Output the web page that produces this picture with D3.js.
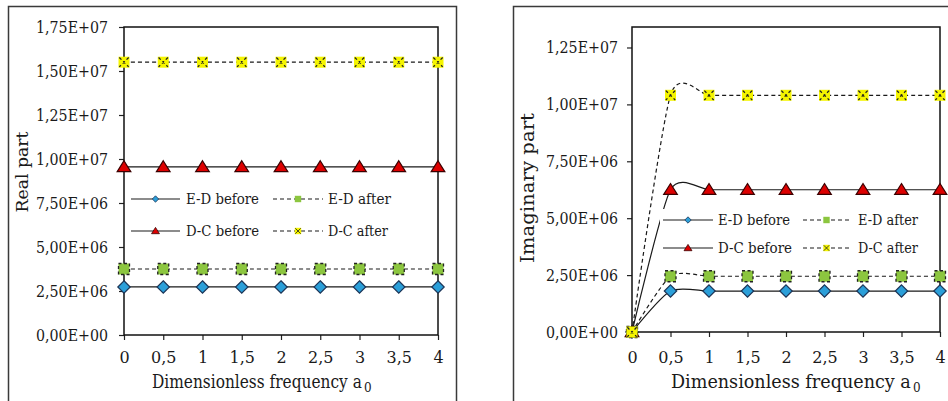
<!DOCTYPE html>
<html><head><meta charset="utf-8">
<script src="https://cdn.jsdelivr.net/npm/d3@7/dist/d3.min.js"></script>
<style>
html,body{margin:0;padding:0;background:#fff;}
svg{display:block;}
svg text{font-family:"DejaVu Serif","Liberation Serif",serif !important;fill:#1a1a1a;}
</style></head>
<body>
<svg id="chart" width="948" height="401"></svg>
<script>
// ---- data ----
const categories = ["0","0,5","1","1,5","2","2,5","3","3,5","4"];
const seriesNames = ["E-D before","E-D after","D-C before","D-C after"];
const realEDBefore = [2.73e6,2.73e6,2.73e6,2.73e6,2.73e6,2.73e6,2.73e6,2.73e6,2.73e6];
const realEDAfter  = [3.75e6,3.75e6,3.75e6,3.75e6,3.75e6,3.75e6,3.75e6,3.75e6,3.75e6];
const realDCBefore = [9.55e6,9.55e6,9.55e6,9.55e6,9.55e6,9.55e6,9.55e6,9.55e6,9.55e6];
const realDCAfter  = [1.55e7,1.55e7,1.55e7,1.55e7,1.55e7,1.55e7,1.55e7,1.55e7,1.55e7];
const imagEDBefore = [0,1.80e6,1.80e6,1.80e6,1.80e6,1.80e6,1.80e6,1.80e6,1.80e6];
const imagEDAfter  = [0,2.45e6,2.45e6,2.45e6,2.45e6,2.45e6,2.45e6,2.45e6,2.45e6];
const imagDCBefore = [0,6.25e6,6.25e6,6.25e6,6.25e6,6.25e6,6.25e6,6.25e6,6.25e6];
const imagDCAfter  = [0,1.04e7,1.04e7,1.04e7,1.04e7,1.04e7,1.04e7,1.04e7,1.04e7];
const realTicks = [0,2.5e6,5e6,7.5e6,1e7,1.25e7,1.5e7,1.75e7];
const imagTicks = [0,2.5e6,5e6,7.5e6,1e7,1.25e7];
const realMax = 1.75e7, imagMax = 1.34e7;
const xTitle = "Dimensionless frequency a";
const xTitleSub = "0";

const FONT = '"DejaVu Serif","Liberation Serif",serif';

// ---- helpers ----
function fmtE(v){
  if (v === 0) return "0,00E+00";
  const s = v.toExponential(2).split("e");
  const m = s[0].replace(".", ",");
  const e = parseInt(s[1],10);
  return m + "E" + (e<0?"-":"+") + String(Math.abs(e)).padStart(2,"0");
}
const svg = d3.select("#chart");

const styles = {
  "E-D before": {dash:null, marker:"diamond", fill:"#2b9fd9", stroke:"#1d3557"},
  "E-D after":  {dash:"4,3", marker:"square", fill:"#8cc63f", stroke:"#222"},
  "D-C before": {dash:null, marker:"triangle", fill:"#dd0000", stroke:"#3a0000"},
  "D-C after":  {dash:"4,3", marker:"xsq", fill:"#f5f500", stroke:"#222"}
};

function drawMarker(g, type, x, y, s, st, small){
  if (type === "diamond"){
    g.append("path").attr("d", `M${x},${y-s}L${x+s},${y}L${x},${y+s}L${x-s},${y}Z`)
      .attr("fill", st.fill).attr("stroke", st.stroke).attr("stroke-width", small?0.8:1.2);
  } else if (type === "square"){
    g.append("rect").attr("x", x-s).attr("y", y-s).attr("width", 2*s).attr("height", 2*s)
      .attr("fill", st.fill).attr("stroke", small?"none":st.stroke).attr("stroke-width", 1.3)
      .attr("stroke-dasharray", "3,2.5");
  } else if (type === "triangle"){
    g.append("path").attr("d", `M${x},${y-s}L${x+s*1.1},${y+s*0.75}L${x-s*1.1},${y+s*0.75}Z`)
      .attr("fill", st.fill).attr("stroke", st.stroke).attr("stroke-width", small?0.8:1.2);
  } else if (type === "xsq"){
    g.append("rect").attr("x", x-s).attr("y", y-s).attr("width", 2*s).attr("height", 2*s)
      .attr("fill", st.fill);
    const k = s*0.85;
    g.append("path").attr("d", `M${x-k},${y-k}L${x+k},${y+k}M${x+k},${y-k}L${x-k},${y+k}`)
      .attr("stroke", "#222").attr("stroke-width", small?0.8:1.3)
      .attr("stroke-dasharray", small?null:"3,2.5").attr("fill","none");
  }
}

function panel(cfg){
  const g = svg.append("g");
  // outer frame
  g.append("rect").attr("x", cfg.frame[0]).attr("y", cfg.frame[1])
    .attr("width", cfg.frame[2]).attr("height", cfg.frame[3])
    .attr("fill", "none").attr("stroke", "#3a3a3a").attr("stroke-width", 1.5);

  const x = d3.scalePoint().domain(categories).range([cfg.x0, cfg.x1]).padding(0);
  const y = d3.scaleLinear().domain([0, cfg.max]).range([cfg.y1, cfg.y0]);

  // y axis
  const ya = g.append("g").attr("transform", `translate(${cfg.x0},0)`)
    .call(d3.axisLeft(y).tickValues(cfg.ticks).tickFormat(fmtE).tickSize(5).tickPadding(cfg.yPad));
  ya.attr("font-family", FONT);
  ya.select(".domain").remove();
  ya.selectAll("line").attr("stroke", "#222").attr("stroke-width", 1.2);
  ya.selectAll("text").style("font-family", FONT).attr("font-size", 16)
    .attr("fill", "#1a1a1a").attr("textLength", 72).attr("lengthAdjust", "spacingAndGlyphs");

  // x axis
  const xa = g.append("g").attr("transform", `translate(0,${cfg.y1})`)
    .call(d3.axisBottom(x).tickSize(5).tickPadding(cfg.xPad));
  xa.attr("font-family", FONT);
  xa.select(".domain").remove();
  xa.selectAll("line").attr("stroke", "#222").attr("stroke-width", 1.2);
  xa.selectAll("text").style("font-family", FONT).attr("font-size", 16).attr("fill", "#1a1a1a");

  // plot border
  g.append("rect").attr("x", cfg.x0).attr("y", cfg.y0)
    .attr("width", cfg.x1 - cfg.x0).attr("height", cfg.y1 - cfg.y0)
    .attr("fill", "none").attr("stroke", "#111").attr("stroke-width", 1.5);

  // lines (smoothed, like the spreadsheet's smoothed lines)
  const line = d3.line().x((d,i)=>x(categories[i])).y(d=>y(d)).curve(d3.curveCardinal.tension(0.3));
  cfg.series.forEach((vals, si) => {
    const st = styles[seriesNames[si]];
    g.append("path").attr("d", line(vals)).attr("fill", "none")
      .attr("stroke", "#1a1a1a").attr("stroke-width", 1.2)
      .attr("stroke-dasharray", st.dash);
  });
  // markers
  cfg.series.forEach((vals, si) => {
    const st = styles[seriesNames[si]];
    const mg = g.append("g");
    vals.forEach((v,i) => {
      const s = st.marker==="diamond"?6.2: st.marker==="triangle"?6.2: 5.5;
      drawMarker(mg, st.marker, x(categories[i]), y(v), s, st, false);
    });
  });

  // legend
  const L = cfg.legend;
  const lg = g.append("g");
  lg.append("rect").attr("x", L.bx).attr("y", L.rows[0]-11).attr("width", L.bw).attr("height", L.rows[1]-L.rows[0]+22)
    .attr("fill", "#fff");
  const pos = [[0,0],[1,0],[0,1],[1,1]];
  seriesNames.forEach((name, si) => {
    const st = styles[name];
    const [c, r] = pos[si];
    const col = L.cols[c];
    const yy = L.rows[r];
    lg.append("line").attr("x1", col.l0).attr("x2", col.l1).attr("y1", yy).attr("y2", yy)
      .attr("stroke", "#1a1a1a").attr("stroke-width", 1.2).attr("stroke-dasharray", st.dash);
    drawMarker(lg, st.marker, (col.l0+col.l1)/2, yy, st.marker==="triangle"?3.6:3.2, st, true);
    lg.append("text").attr("x", col.tx).attr("y", yy).attr("dy", "0.33em")
      .attr("font-family", FONT).style("font-family", FONT)
      .attr("font-size", 15).attr("textLength", col.tw[r]).attr("lengthAdjust", "spacingAndGlyphs")
      .text(name);
  });

  // x title: main text sized to fit its width, stretched vertically, + separate subscript
  const [tx0, ty, tw, tfs] = cfg.xt;
  const mainW = tw - 11;
  const xtMain = g.append("text").attr("x", 0).attr("y", 0)
    .attr("font-family", FONT).style("font-family", FONT)
    .attr("font-size", tfs).text(xTitle);
  const natural = xtMain.node().getComputedTextLength();
  const fs = tfs * mainW / natural;
  xtMain.attr("font-size", fs)
    .attr("transform", `translate(${tx0},${ty}) scale(1,${tfs/fs})`);
  g.append("text").attr("x", tx0 + tw - 9).attr("y", ty + 4)
    .attr("font-family", FONT).style("font-family", FONT)
    .attr("font-size", Math.round(tfs*0.65)).text(xTitleSub);

  g.append("text").attr("transform", `translate(${cfg.yt[0]},${cfg.yt[1]}) rotate(-90)`)
    .attr("font-family", FONT).style("font-family", FONT)
    .attr("text-anchor", "middle").attr("dy", "0.33em")
    .attr("font-size", cfg.yt[3]).attr("textLength", cfg.yt[2]).attr("lengthAdjust", "spacingAndGlyphs")
    .text(cfg.yTitle);
}

panel({
  frame:[8.5,6.5,448,420],
  x0:124, x1:438, y0:27, y1:335, max:realMax, ticks:realTicks, yPad:11, xPad:12,
  series:[realEDBefore, realEDAfter, realDCBefore, realDCAfter],
  legend:{bx:128, bw:270, rows:[199,231],
    cols:[{l0:131,l1:180,tx:186,tw:[73,73]},{l0:273,l1:323,tx:328,tw:[63,60]}]},
  xt:[152,388,221,18], yt:[22,172,81,17], yTitle:"Real part"
});
panel({
  frame:[513.5,6.5,480,420],
  x0:632, x1:940, y0:27, y1:332, max:imagMax, ticks:imagTicks, yPad:9, xPad:15,
  series:[imagEDBefore, imagEDAfter, imagDCBefore, imagDCAfter],
  legend:{bx:660, bw:262, rows:[220,248],
    cols:[{l0:663,l1:713,tx:718,tw:[72,74]},{l0:803,l1:850,tx:858,tw:[60,60]}]},
  xt:[671,388,251,19], yt:[528,188,150,19], yTitle:"Imaginary part"
});
</script>
</body></html>
